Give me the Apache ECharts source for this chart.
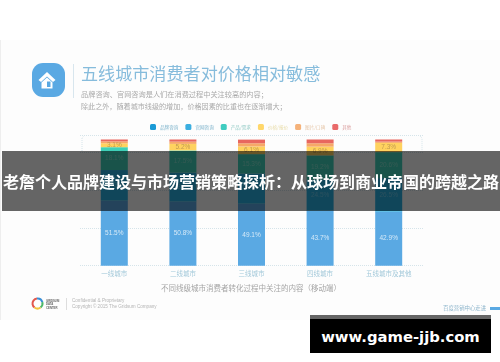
<!DOCTYPE html>
<html>
<head>
<meta charset="utf-8">
<title>五线城市消费者对价格相对敏感</title>
<script src="https://cdn.jsdelivr.net/npm/echarts@6/dist/echarts.min.js"></script>
<style>
  html, body { margin: 0; padding: 0; background: #fff; }
  body { position: relative; width: 500px; height: 362px; overflow: hidden; }
  #chart { position: absolute; left: 0; top: 0; width: 500px; height: 362px; filter: blur(0.7px); }
  #banner {
    position: absolute; left: 2px; top: 151px; width: 498px; height: 60px; line-height: 60px;
    background: rgba(0, 0, 0, 0.6); color: #fff; text-align: center; white-space: nowrap;
    font: bold 16px/60px "Noto Sans CJK SC", sans-serif; filter: blur(0.3px);
  }
  #mark {
    position: absolute; left: 310px; top: 315px; width: 181px; height: 38px; background: #000;
    border-top: 4px solid #666; box-sizing: border-box; color: #fff; text-align: center;
    font: bold 14.8px/35px "DejaVu Sans", sans-serif;
  }
</style>
</head>
<body>
<div id="chart"></div>
<div id="banner">老詹个人品牌建设与市场营销策略探析：从球场到商业帝国的跨越之路</div>
<div id="mark">www.game-jjb.com</div>
<script>
const cities = ['一线城市', '二线城市', '三线城市', '四线城市', '五线城市及其他']
const brandValues = [51.5, 50.8, 49.1, 43.7, 42.9]
const siteValues = [24.3, 23.0, 24.0, 24.5, 26.5]
const productValues = [18.1, 17.5, 15.3, 19.2, 20.6]
const priceValues = [3.1, 5.2, 6.1, 6.9, 7.3]
const imageValues = [1.5, 1.8, 2.5, 2.7, 1.0]
const otherValues = [1.5, 1.7, 2.9, 3.0, 1.7]
const legendNames = ['品牌咨询', '官网咨询', '产品/需求', '价格/报价', '图片/口碑', '其他']
const legendColors = ['#1a9ad6', '#3aaee0', '#40ccc0', '#ffd76a', '#f5b27a', '#e96a6a']
const legendTextColors = ['#7fb4cc', '#7fb4cc', '#8fc9c4', '#e8dca8', '#e6c6a8', '#dba0a0']

const titleText = '五线城市消费者对价格相对敏感'
const subLine1 = '品牌咨询、官网咨询是人们在消费过程中关注较高的内容；'
const subLine2 = '除此之外，随着城市线级的增加，价格因素的比重也在逐渐增大；'
const captionText = '不同线级城市消费者转化过程中关注的内容（移动端）'

const chart = echarts.init(document.getElementById('chart'))

function barSeries(name, data, color, labelColor) {
  return {
    name: name,
    type: 'bar',
    stack: 'total',
    barWidth: 27,
    data: data,
    itemStyle: { color: color },
    label: {
      show: !!labelColor,
      position: 'inside',
      fontSize: 6.5,
      color: labelColor,
      formatter: p => p.value.toFixed(1) + '%'
    }
  }
}

function plainText(x, y, text, size, color, extra) {
  return {
    type: 'text',
    x: x,
    y: y,
    style: Object.assign({
      text: text,
      fontSize: size,
      fontFamily: 'Noto Sans CJK SC',
      fill: color,
      textVerticalAlign: 'middle'
    }, extra || {})
  }
}

function polygon(points, fill) {
  return { type: 'polygon', shape: { points: points }, style: { fill: fill } }
}

chart.setOption({
  backgroundColor: '#fdfdfd',
  animation: false,
  legend: {
    left: 145,
    top: 119,
    itemWidth: 6,
    itemHeight: 6,
    itemGap: 7,
    icon: 'roundRect',
    textStyle: { fontSize: 4.6, padding: [0, 0, 0, -1], fontFamily: 'Noto Sans CJK SC' },
    data: legendNames.map((n, i) => ({
      name: n,
      itemStyle: { color: legendColors[i] },
      textStyle: { color: legendTextColors[i] }
    }))
  },
  grid: { left: 80, top: 135.7, width: 343, height: 130 },
  xAxis: {
    type: 'category',
    data: cities,
    axisLine: { show: false },
    axisTick: { show: false },
    axisLabel: { color: '#a3c9da', fontSize: 6.5, margin: 5, fontFamily: 'Noto Sans CJK SC' }
  },
  yAxis: {
    type: 'value',
    min: 0,
    max: 103,
    interval: 30,
    axisLine: { show: false },
    axisTick: { show: false },
    axisLabel: { show: false },
    splitLine: { lineStyle: { color: '#d5e4ea', type: 'dotted', width: 1 } }
  },
  series: [
    barSeries(legendNames[0], brandValues, '#5aa9e3', 'rgba(255,255,255,0.75)'),
    barSeries(legendNames[1], siteValues, '#28afe1', 'rgba(255,255,255,0.3)'),
    barSeries(legendNames[2], productValues, '#3fd0b8', 'rgba(255,255,255,0.35)'),
    barSeries(legendNames[3], priceValues, '#ffd25f', '#c09a50'),
    barSeries(legendNames[4], imageValues, '#f6a868'),
    barSeries(legendNames[5], otherValues, '#e8675f')
  ],
  graphic: [
    // 左上角图标
    { type: 'rect', shape: { x: 32, y: 63, width: 33, height: 34, r: 11 }, style: { fill: '#5aa9e3' } },
    polygon([[47, 72], [38.5, 80], [41, 82], [47, 76.5], [53, 82], [55.5, 80]], '#fff'),
    polygon([[41.5, 82.5], [47, 77.5], [52.5, 82.5], [52.5, 88.5], [41.5, 88.5]], '#fff'),
    polygon([[47, 81.5], [50.5, 81.5], [50.5, 87], [47, 87]], '#5aa9e3'),
    { type: 'line', shape: { x1: 73.5, y1: 64, x2: 73.5, y2: 98 }, style: { stroke: '#d8e6ee', lineWidth: 1 } },
    plainText(81, 73.5, titleText, 17.1, '#86bcdc'),
    plainText(81, 94, subLine1, 7.2, '#aaaaaa'),
    plainText(81, 106, subLine2, 7.1, '#aaaaaa'),
    // 虚线框两侧
    { type: 'polyline', shape: { points: [[82, 151], [82, 138], [84, 136]] }, style: { fill: 'none', stroke: '#d5e4ea', lineWidth: 1, lineDash: [1, 1] } },
    { type: 'polyline', shape: { points: [[420, 136], [422, 138], [422, 151]] }, style: { fill: 'none', stroke: '#d5e4ea', lineWidth: 1, lineDash: [1, 1] } },
    plainText(161, 288.5, captionText, 7.5, '#a5a5a5'),
    // 页脚
    { type: 'arc', shape: { cx: 37.5, cy: 303.5, r: 5, startAngle: 2.2, endAngle: 4.6 }, style: { stroke: '#e2574c', fill: 'none', lineWidth: 2 } },
    { type: 'arc', shape: { cx: 37.5, cy: 303.5, r: 5, startAngle: 4.6, endAngle: 6.0 }, style: { stroke: '#3a8fd6', fill: 'none', lineWidth: 2 } },
    { type: 'arc', shape: { cx: 37.5, cy: 303.5, r: 5, startAngle: 6.0, endAngle: 7.2 }, style: { stroke: '#4cb86a', fill: 'none', lineWidth: 2 } },
    { type: 'arc', shape: { cx: 37.5, cy: 303.5, r: 5, startAngle: 7.2, endAngle: 8.5 }, style: { stroke: '#f2c53d', fill: 'none', lineWidth: 2 } },
    plainText(46, 301, 'GRIDSUM', 2.8, '#666', { fontFamily: 'Liberation Sans', fontWeight: 'bold' }),
    plainText(46, 304.5, 'DATA', 2.8, '#666', { fontFamily: 'Liberation Sans', fontWeight: 'bold' }),
    plainText(46, 308, 'CENTER', 2.8, '#666', { fontFamily: 'Liberation Sans', fontWeight: 'bold' }),
    { type: 'line', shape: { x1: 66.5, y1: 298, x2: 66.5, y2: 310 }, style: { stroke: '#ddd', lineWidth: 1 } },
    plainText(72, 300.5, 'Confidential & Proprietary', 4.6, '#b5b5b5', { fontFamily: 'Liberation Sans' }),
    plainText(72, 306.5, 'Copyright © 2015 The Gridsum Company', 4.6, '#b5b5b5', { fontFamily: 'Liberation Sans' }),
    plainText(443, 308, '百度营销中心走进', 5.4, '#8fb6cc'),
    { type: 'rect', shape: { x: 490, y: 307, width: 10, height: 3 }, style: { fill: '#5aa9e3' } },
    // 图片上下留白
    { type: 'rect', z: -1, shape: { x: 0, y: 320, width: 500, height: 42 }, style: { fill: '#fff' } },
    { type: 'rect', z: -1, shape: { x: 0, y: 0, width: 500, height: 40 }, style: { fill: '#fff' } },
    { type: 'line', z: -1, shape: { x1: 0.5, y1: 40, x2: 0.5, y2: 320 }, style: { stroke: '#eeeeee', lineWidth: 1 } }
  ]
})
</script>
</body>
</html>
